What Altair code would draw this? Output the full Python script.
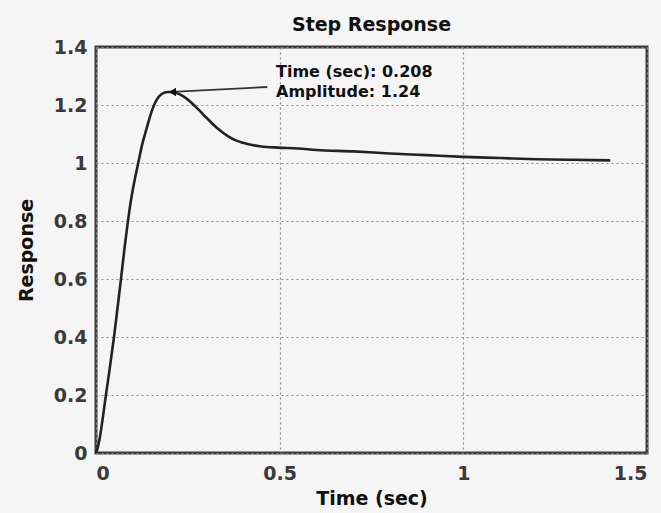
import altair as alt
import pandas as pd

# Step response curve
time_s = [0, 0.005, 0.01, 0.015, 0.02, 0.027, 0.035, 0.042, 0.05, 0.06, 0.068, 0.078,
          0.086, 0.095, 0.105, 0.115, 0.125, 0.138, 0.147, 0.155, 0.165, 0.179, 0.195,
          0.208, 0.22, 0.24, 0.26, 0.28, 0.30, 0.332, 0.36, 0.379, 0.40, 0.425, 0.45,
          0.496, 0.55, 0.6, 0.7, 0.8, 0.9, 1.0, 1.1, 1.2, 1.3, 1.4]
response = [0, 0.02, 0.05, 0.09, 0.135, 0.2, 0.27, 0.335, 0.41, 0.515, 0.6, 0.71,
            0.79, 0.87, 0.94, 1.0, 1.06, 1.12, 1.16, 1.19, 1.218, 1.238, 1.245,
            1.245, 1.241, 1.228, 1.208, 1.183, 1.157, 1.118, 1.092, 1.079, 1.07, 1.062, 1.057,
            1.053, 1.05, 1.045, 1.04, 1.033, 1.027, 1.021, 1.017, 1.013, 1.011, 1.009]

x_ticks = [0, 0.5, 1, 1.5]
y_ticks = [0, 0.2, 0.4, 0.6, 0.8, 1, 1.2, 1.4]

peak_time = [0.208]
peak_amp = [1.245]
annot_text = [["Time (sec): 0.208", "Amplitude: 1.24"]]
annot_t = [0.49]
annot_y = [1.297]
arrow_tail_t = [0.466]
arrow_tail_y = [1.262]

FONT = "DejaVu Sans"
BG = "#f5f5f5"

df = pd.DataFrame({"t": time_s, "y": response})
peak_df = pd.DataFrame({"t": peak_time, "y": peak_amp,
                        "t2": arrow_tail_t, "y2": arrow_tail_y})
annot_df = pd.DataFrame({"t": annot_t, "y": annot_y, "label": annot_text})

xscale = alt.Scale(domain=[0, 1.5], nice=False, zero=False)
yscale = alt.Scale(domain=[0, 1.4], nice=False)

x_enc = alt.X("t:Q", scale=xscale,
              axis=alt.Axis(values=x_ticks, format="~g", title="Time (sec)",
                            labelPadding=11, titlePadding=6))
y_enc = alt.Y("y:Q", scale=yscale,
              axis=alt.Axis(values=y_ticks, format="~g", title="Response",
                            labelPadding=9, titlePadding=17))

line = alt.Chart(df).mark_line(color="#222222", strokeWidth=2.6,
                               interpolate="monotone").encode(x=x_enc, y=y_enc)

arrow_line = alt.Chart(peak_df).mark_rule(color="#333333", strokeWidth=1.8).encode(
    x="t:Q", y="y:Q", x2="t2:Q", y2="y2:Q")

arrow_head = alt.Chart(peak_df).mark_point(
    shape="triangle-left", filled=True, color="#111111", size=70, opacity=1, dx=5
).encode(x="t:Q", y="y:Q")

annot = alt.Chart(annot_df).mark_text(
    align="left", baseline="alphabetic", font=FONT, fontSize=16,
    fontWeight="bold", lineHeight=20, color="#111111"
).encode(x="t:Q", y="y:Q", text="label")

chart = alt.layer(line, arrow_line, arrow_head, annot).properties(
    width=551, height=406,
    title=alt.TitleParams("Step Response", font=FONT, fontSize=19,
                          fontWeight="bold", color="#111111", offset=3),
    background=BG,
    padding={"left": 96, "top": 47, "right": 14, "bottom": 60},
    autosize=alt.AutoSizeParams(type="none"),
).configure_view(
    stroke="#3a3a3a", strokeWidth=3, fill=BG
).configure_axis(
    domain=False, ticks=False,
    labelFont=FONT, labelFontSize=19, labelFontWeight="bold", labelColor="#3a3a3a",
    titleFont=FONT, titleFontSize=19, titleFontWeight="bold", titleColor="#111111",
    grid=True, gridColor="#8a8a8a", gridDash=[2, 3], gridWidth=1.2, gridOpacity=1,
)

chart.save("out.html", embed_options={"renderer": "svg", "actions": False})
